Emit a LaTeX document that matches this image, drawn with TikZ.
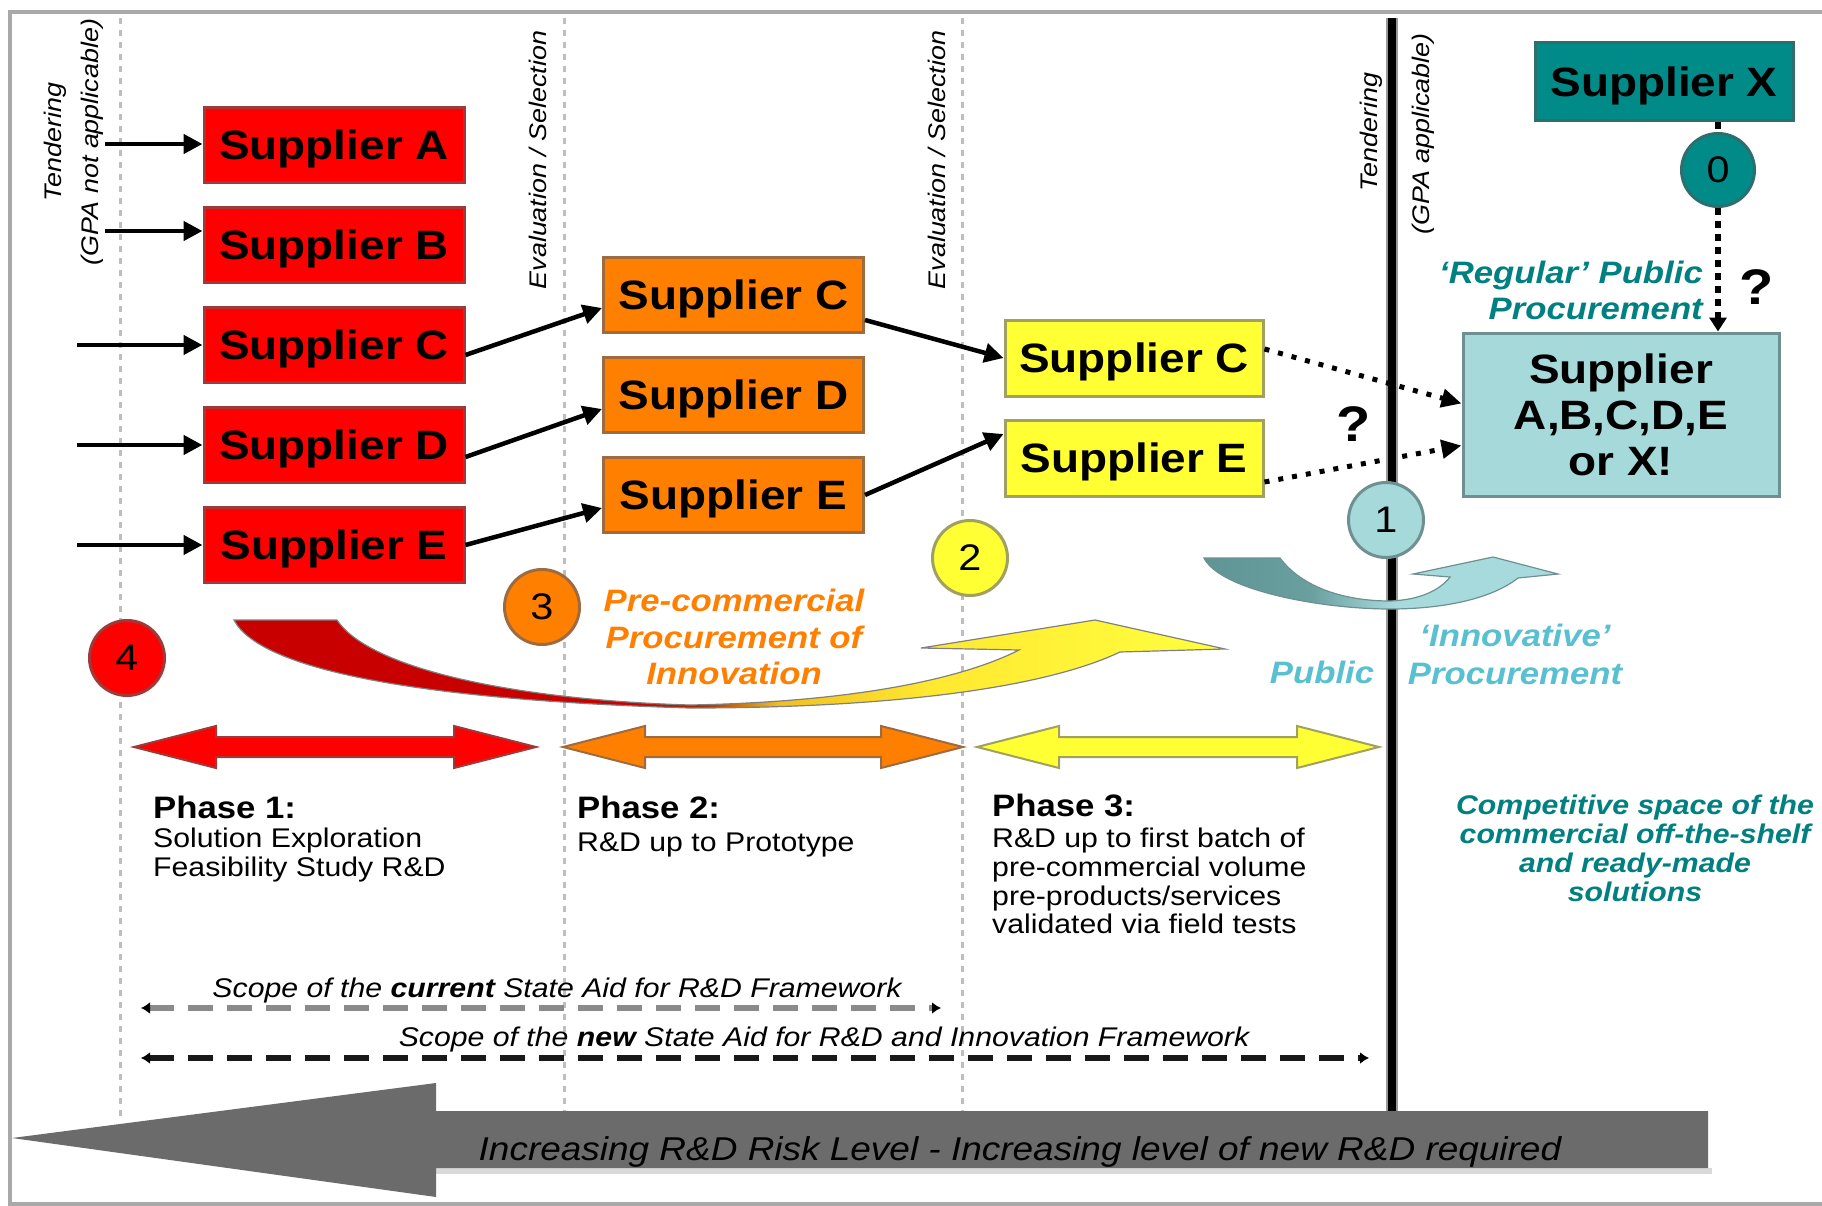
\documentclass[tikz,border=0pt]{standalone}
\usepackage{fontspec}
\setmainfont{Liberation Sans}[FakeStretch=1.12]
\usetikzlibrary{arrows.meta}
\definecolor{cRed}{HTML}{FF0000}
\definecolor{cRedD}{HTML}{9E3A3A}
\definecolor{cOr}{HTML}{FF8000}
\definecolor{cOrD}{HTML}{9E6B40}
\definecolor{cYe}{HTML}{FFFF33}
\definecolor{cYeD}{HTML}{A0A060}
\definecolor{cTeal}{HTML}{008B89}
\definecolor{cTealD}{HTML}{2E6E6E}
\definecolor{cLb}{HTML}{A6D9DA}
\definecolor{cLbD}{HTML}{6F9090}
\definecolor{txtTeal}{HTML}{008080}
\definecolor{txtCyan}{HTML}{58C0D0}
\definecolor{txtOr}{HTML}{FF8000}
\definecolor{frameGray}{HTML}{A9A9A9}
\definecolor{dotGray}{HTML}{BEBEBE}
\definecolor{bigGray}{HTML}{6B6B6B}
\definecolor{scopeGray}{HTML}{8A8A8A}
\definecolor{swA}{HTML}{C80000}
\definecolor{swB}{HTML}{A82800}
\definecolor{swC}{HTML}{F0C020}
\definecolor{swD}{HTML}{FFE830}
\definecolor{swE}{HTML}{FFFF40}
\definecolor{stA}{HTML}{5F9595}
\definecolor{stB}{HTML}{6A9FA0}
\definecolor{stC}{HTML}{A6DADC}
\pgfdeclarehorizontalshading{swred}{100bp}{color(0bp)=(swA); color(25bp)=(swA); color(45bp)=(swA); color(48.5bp)=(swB); color(52.5bp)=(swC); color(60bp)=(swD); color(75bp)=(swE); color(100bp)=(swE)}
\pgfdeclarehorizontalshading{swteal}{100bp}{color(0bp)=(stA); color(25bp)=(stA); color(40bp)=(stB); color(52bp)=(stC); color(75bp)=(stC); color(100bp)=(stC)}
\newcommand\fsz[2]{\fontsize{#1}{#2}\selectfont}
\newcommand\phasearrow[4]{\draw[#4] (#1,#3) -- (#1+82,#3-21) -- (#1+82,#3-10) -- (#2-82,#3-10) -- (#2-82,#3-21) -- (#2,#3) -- (#2-82,#3+21) -- (#2-82,#3+10) -- (#1+82,#3+10) -- (#1+82,#3+21) -- cycle;}
\begin{document}
\begin{tikzpicture}[x=1pt,y=-1pt,
  sbox/.style={draw, line width=3, minimum width=260, minimum height=75, inner sep=0, font=\fsz{41}{46}\bfseries},
  boxtxt/.style={text depth=0pt},
  redbox/.style={sbox, boxtxt, fill=cRed, draw=cRedD},
  orbox/.style={sbox, boxtxt, fill=cOr, draw=cOrD},
  yebox/.style={sbox, boxtxt, fill=cYe, draw=cYeD, minimum width=258, minimum height=76},
  circnode/.style={circle, draw, line width=3, minimum size=75, inner sep=0, font=\fsz{37}{37}},
  rotlab/.style={rotate=90, inner sep=0, font=\fsz{24}{28}\itshape},
  blkarr/.style={line width=4.5, -{Triangle[length=19pt,width=19pt]}},
  dotarr/.style={line width=5, dash pattern=on 5pt off 9pt, -{Triangle[length=20pt,width=18pt]}},
  vdotarr/.style={line width=6, dash pattern=on 7pt off 6pt},
  vdot/.style={dotGray, line width=3, dash pattern=on 6pt off 6pt},
  scopearr/.style={line width=6, dash pattern=on 25pt off 14pt, {Latex[length=9pt,width=12pt,color=black]}-{Latex[length=9pt,width=12pt,color=black]}},
  phtitle/.style={anchor=base west, inner sep=0, font=\fsz{31}{31}\bfseries},
  phdesc/.style={anchor=north west, inner sep=0, align=left, font=\fsz{27}{29}},
  qmark/.style={anchor=base, inner sep=0, font=\fsz{50}{50}\bfseries}
]
\useasboundingbox (0,0) rectangle (1822,1206);
\fill[white] (0,0) rectangle (1822,1206);
% frame
\draw[frameGray, line width=4] (1830,12) -- (10,12) -- (10,1204) -- (1830,1204);
% vertical dotted separators
\foreach \x in {120,564,962} \draw[vdot] (\x,18) -- (\x,1116);
% thick black separator
\draw[line width=12, black!40] (1392,18) -- (1392,1111);
\draw[line width=8, black] (1392,18) -- (1392,1111);
% big gray arrow
\fill[black!15] (436,1168) rectangle (1712,1174);
\fill[bigGray] (12,1138) -- (436,1083) -- (436,1111) -- (1708,1111) -- (1708,1168) -- (436,1168) -- (436,1197) -- cycle;
\node[anchor=base, inner sep=0, font=\fsz{33}{33}\itshape] (risk) at (1020,1160) {Increasing R\&D Risk Level - Increasing level of new R\&D required};
% swooshes
\shadedraw[shading=swred, draw=black!50, line width=1.2] (234,620) -- (337,620) .. controls (370,670) and (520,700) .. (690,705) .. controls (850,702) and (960,680) .. (1019,650) -- (921,648) -- (1095,620) -- (1225,649) -- (1120,652) .. controls (1040,690) and (880,708) .. (690,708) .. controls (420,700) and (260,670) .. (234,620) -- cycle;
\shadedraw[shading=swteal, draw=cLbD, line width=1.2] (1204,558) -- (1280,558) .. controls (1300,585) and (1340,601) .. (1390,601) .. controls (1420,600) and (1440,590) .. (1450,577) -- (1413,574) -- (1493,557) -- (1558,574) -- (1518,578) .. controls (1490,600) and (1440,609) .. (1390,609) .. controls (1320,609) and (1220,590) .. (1204,558) -- cycle;
% circles
\node[circnode, fill=cRed, draw=cRedD] (c4) at (127,658) {4};
\node[circnode, fill=cOr, draw=cOrD] (c3) at (542,607) {3};
\node[circnode, fill=cYe, draw=cYeD] (c2) at (970,558) {2};
\node[circnode, fill=cLb, draw=cLbD] (c1) at (1386,520) {1};
\node[circnode, fill=cTeal, draw=cTealD, minimum size=73] (c0) at (1718,170) {0};
% rotated labels
\node[rotlab] (tend1) at (55,142) {Tendering};
\node[rotlab] (gpa1) at (92,142) {(GPA not applicable)};
\node[rotlab] (eval1) at (538,160) {Evaluation / Selection};
\node[rotlab] (eval2) at (937,160) {Evaluation / Selection};
\node[rotlab] (tend2) at (1371,132) {Tendering};
\node[rotlab] (gpa2) at (1423,134) {(GPA applicable)};
% supplier boxes
\node[redbox] (sa) at (334,145) {Supplier A};
\node[redbox] (sb) at (334,245) {Supplier B};
\node[redbox] (sc) at (334,345) {Supplier C};
\node[redbox] (sd) at (334,445) {Supplier D};
\node[redbox] (se) at (334,545) {Supplier E};
\node[orbox] (oc) at (733.5,295) {Supplier C};
\node[orbox] (od) at (733.5,395) {Supplier D};
\node[orbox] (oe) at (733.5,495) {Supplier E};
\node[yebox] (yc) at (1134,358) {Supplier C};
\node[yebox] (ye) at (1134,458) {Supplier E};
\node[sbox, boxtxt, fill=cTeal, draw=cTealD, minimum width=258, minimum height=78] (supx) at (1664,82) {Supplier X};
\node[sbox, fill=cLb, draw=cLbD, minimum width=316, minimum height=163, align=center] (abox) at (1621,414.5) {Supplier\\A,B,C,D,E\\or X!};
% incoming arrows
\coordinate (inA) at (105,144);
\coordinate (inB) at (105,231);
\coordinate (inC) at (77,345);
\coordinate (inD) at (77,445);
\coordinate (inE) at (77,545);
\draw[blkarr] (inA) -- (sa.west |- inA);
\draw[blkarr] (inB) -- (sb.west |- inB);
\draw[blkarr] (inC) -- (sc.west |- inC);
\draw[blkarr] (inD) -- (sd.west |- inD);
\draw[blkarr] (inE) -- (se.west |- inE);
% red -> orange
\draw[blkarr] ([yshift=-10pt]sc.east) -- ([yshift=-13pt]oc.west);
\draw[blkarr] ([yshift=-12pt]sd.east) -- ([yshift=-14pt]od.west);
\draw[blkarr] (se.east) -- ([yshift=-13pt]oe.west);
% orange -> yellow
\draw[blkarr] ([yshift=-25pt]oc.east) -- (yc.west);
\draw[blkarr] (oe.east) -- ([yshift=24pt]ye.west);
% yellow -> final (dotted)
\draw[dotarr] ([yshift=9pt]yc.east) -- ([yshift=11pt]abox.west);
\draw[dotarr] ([yshift=-24pt]ye.east) -- ([yshift=-31pt]abox.west);
% supplier X -> final
\draw[vdotarr] (c0.north |- supx.south) -- (c0.north);
\draw[vdotarr, -{Triangle[length=14pt,width=17pt]}] (c0.south) -- (c0.south |- abox.north);
% question marks
\node[qmark] (q1) at (1757,305) {?};
\node[qmark] (q2) at (1354,441) {?};
% coloured labels
\node[anchor=north east, inner sep=0, align=right, text=txtTeal, font=\fsz{31}{36}\bfseries\itshape] (regular) at (1703,261) {‘Regular’ Public\\Procurement};
\node[anchor=north, inner sep=0, align=center, text=txtOr, font=\fsz{31}{36.5}\bfseries\itshape] (pcp) at (734,589) {Pre-commercial\\Procurement of\\Innovation};
\node[anchor=base, inner sep=0, text=txtCyan, font=\fsz{31}{31}\bfseries\itshape] (public) at (1322,683) {Public};
\node[anchor=north, inner sep=0, align=center, text=txtCyan, font=\fsz{31}{38}\bfseries\itshape] (innov) at (1515,624) {‘Innovative’\\Procurement};
\node[anchor=north, inner sep=0, align=center, text=txtTeal, font=\fsz{27}{29}\bfseries\itshape] (compet) at (1635,795) {Competitive space of the\\commercial off-the-shelf\\and ready-made\\solutions};
% phase arrows
\phasearrow{134}{536}{747}{fill=cRed, draw=cRedD, line width=2}
\phasearrow{563}{963}{747}{fill=cOr, draw=cOrD, line width=2}
\phasearrow{977}{1379}{747}{fill=cYe, draw=cYeD, line width=2}
% phase texts
\node[phtitle] (p1t) at (153,818) {Phase 1:};
\node[phdesc] (p1d) at (153,828) {Solution Exploration\\Feasibility Study R\&D};
\node[phtitle] (p2t) at (577,818) {Phase 2:};
\node[phdesc] (p2d) at (577,833) {R\&D up to Prototype};
\node[phtitle] (p3t) at (992,816) {Phase 3:};
\node[phdesc, font=\fsz{27}{28.7}] (p3d) at (992,828) {R\&D up to first batch of\\pre-commercial volume\\pre-products/services\\validated via field tests};
% scope arrows
\node[anchor=base, inner sep=0, font=\fsz{27}{27}\itshape] (scur) at (557,997) {Scope of the \textbf{current} State Aid for R\&D Framework};
\coordinate (scL) at (141,1008);
\coordinate (scR) at (941,1008);
\draw[scopearr, scopeGray] (scL) -- (scR);
\node[anchor=base, inner sep=0, font=\fsz{27}{27}\itshape] (snew) at (824,1046) {Scope of the \textbf{new} State Aid for R\&D and Innovation Framework};
\coordinate (snL) at (141,1058);
\coordinate (snR) at (1369,1058);
\draw[scopearr, black!90] (snL) -- (snR);
\end{tikzpicture}
\end{document}
